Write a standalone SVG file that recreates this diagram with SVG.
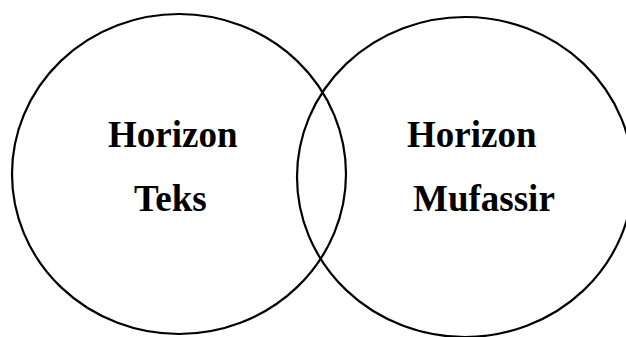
<svg xmlns="http://www.w3.org/2000/svg" width="626" height="337" viewBox="0 0 626 337">
<style>
.c{fill:none;stroke:#000;stroke-width:2.2}
.t{font-family:"Liberation Serif","Times New Roman",serif;font-weight:bold;font-size:37px;fill:#000}
</style>
<rect width="626" height="337" fill="#fff"/>
<g id="horizon-teks">
<ellipse class="c" cx="179" cy="174" rx="167" ry="160"/>
<text class="t" x="108" y="147">Horizon</text>
<text class="t" x="134" y="211">Teks</text>
</g>
<g id="horizon-mufassir">
<ellipse class="c" cx="465" cy="177" rx="168" ry="160"/>
<text class="t" x="407" y="147">Horizon</text>
<text class="t" x="413" y="211">Mufassir</text>
</g>
</svg>
